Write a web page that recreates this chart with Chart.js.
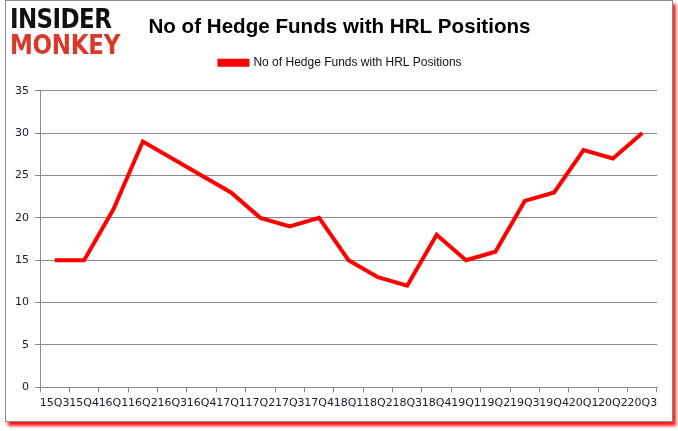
<!DOCTYPE html>
<html>
<head>
<meta charset="utf-8">
<script src="https://cdn.jsdelivr.net/npm/chart.js@4.4.1/dist/chart.umd.min.js"></script>
<style>
  body { margin: 0; background: #fff; width: 678px; height: 431px; overflow: hidden; }
  #frame {
    position: absolute; left: 5px; top: 0px; width: 666px; height: 420px;
    border: 1px solid #8a8a8a; background: #fff;
    box-shadow: 3px 4px 3px rgba(255, 0, 0, 0.9);
  }
  #logo {
    position: absolute; left: 10px; top: 6px; z-index: 2;
    font-family: "DejaVu Sans", sans-serif; font-weight: bold; line-height: 23px;
    transform: scale(1, 1.15); transform-origin: top left;
  }
  #logo .a { color: #111; font-size: 23px; letter-spacing: -0.6px; }
  #logo .b { color: #d8392b; font-size: 23px; letter-spacing: -0.3px; }
</style>
</head>
<body>
<div id="frame"><canvas id="chart" width="666" height="420"></canvas></div>
<div id="logo"><div class="a">INSIDER</div><div class="b">MONKEY</div></div>
<script>
// quarters on the x axis
const quarters = ['15Q3', '15Q4', '16Q1', '16Q2', '16Q3', '16Q4', '17Q1', '17Q2', '17Q3', '17Q4',
    '18Q1', '18Q2', '18Q3', '18Q4', '19Q1', '19Q2', '19Q3', '19Q4', '20Q1', '20Q2', '20Q3'];
// number of hedge funds holding HRL
const fundCounts = [15, 15, 21, 29, 27, 25, 23, 20, 19, 20, 15, 13, 12, 18, 15, 16, 22, 23, 28, 27, 30];
const yTicks = [0, 5, 10, 15, 20, 25, 30, 35];

const seriesName = 'No of Hedge Funds with HRL Positions';
const gridGray = '#8a8a8a';

// nudge title and legend so they sit centred over the whole frame like the original
const nudgeHeader = {
    id: 'nudgeHeader',
    afterLayout(chart) {
        const t = chart.titleBlock;
        if (t) { t.left += 8; t.right += 8; }
        const l = chart.legend;
        if (l) { l.left += 9; l.right += 9; l.top -= 12; l.bottom -= 12; }
    }
};

const ctx = document.getElementById('chart');
new Chart(ctx, {
    type: 'line',
    data: {
        labels: quarters,
        datasets: [{
            label: seriesName,
            data: fundCounts,
            borderColor: '#ff0000',
            backgroundColor: '#ff0000',
            borderWidth: 4,
            pointRadius: 0,
            tension: 0,
            fill: false
        }]
    },
    options: {
        responsive: false,
        animation: false,
        layout: { padding: { top: 0, right: 15, bottom: 7.5, left: 0 } },
        plugins: {
            title: {
                display: true,
                text: seriesName,
                color: '#000',
                font: { family: 'Liberation Sans', size: 20.6, weight: 'bold' },
                padding: { top: 14, bottom: 19 }
            },
            legend: {
                display: true,
                labels: {
                    color: '#111',
                    font: { family: 'Liberation Sans', size: 12 },
                    boxWidth: 28,
                    boxHeight: 4,
                    padding: 10
                }
            },
            tooltip: { enabled: false }
        },
        scales: {
            x: {
                offset: true,
                grid: {
                    display: true,
                    offset: true,
                    drawOnChartArea: false,
                    color: gridGray,
                    tickLength: 5
                },
                border: { color: gridGray },
                ticks: {
                    autoSkip: false,
                    maxRotation: 0,
                    minRotation: 0,
                    color: '#1a1a2a',
                    font: { family: 'DejaVu Sans', size: 11 },
                    padding: 4
                }
            },
            y: {
                min: 0,
                max: 35,
                afterFit: function(scale) { scale.width = 34; },
                afterBuildTicks: function(scale) {
                    scale.ticks = yTicks.map(v => ({ value: v }));
                },
                grid: { color: gridGray, tickLength: 5 },
                border: { color: gridGray },
                ticks: {
                    color: '#1a1a2a',
                    font: { family: 'DejaVu Sans', size: 11 },
                    padding: 6
                }
            }
        }
    },
    plugins: [nudgeHeader]
});
</script>
</body>
</html>
